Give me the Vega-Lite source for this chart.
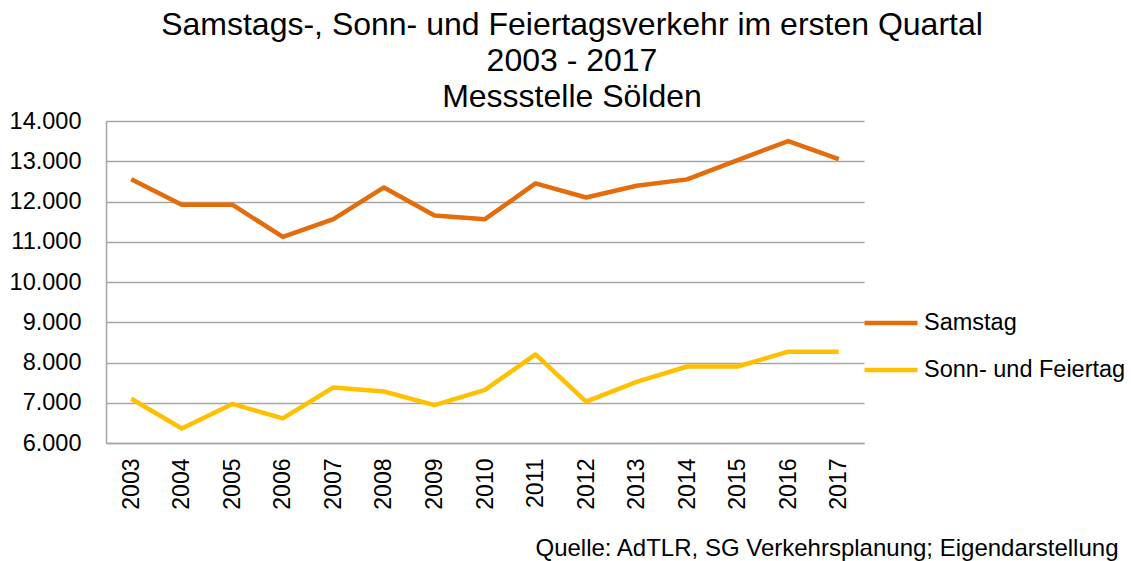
{
  "$schema": "https://vega.github.io/schema/vega-lite/v6.json",
  "autosize": {"type": "none"},
  "width": 758,
  "height": 322,
  "padding": {"left": 106, "top": 121, "right": 267, "bottom": 118},
  "background": "white",
  "config": {
    "locale": {"number": {"decimal": ",", "thousands": ".", "grouping": [3], "currency": ["", " €"]}},
    "view": {"stroke": null},
    "font": "Liberation Sans"
  },
  "title": {
    "text": ["Samstags-, Sonn- und Feiertagsverkehr im ersten Quartal", "2003 - 2017", "Messstelle Sölden"],
    "fontSize": 32,
    "font": "Liberation Sans",
    "fontWeight": "normal",
    "color": "#000000",
    "anchor": "middle",
    "frame": "group",
    "baseline": "bottom",
    "lineHeight": 36,
    "dx": 87,
    "dy": 43,
    "offset": 6
  },
  "data": {
    "values": [
      {"year": "2003", "series": "Samstag", "value": 12550},
      {"year": "2004", "series": "Samstag", "value": 11920},
      {"year": "2005", "series": "Samstag", "value": 11920},
      {"year": "2006", "series": "Samstag", "value": 11120},
      {"year": "2007", "series": "Samstag", "value": 11560},
      {"year": "2008", "series": "Samstag", "value": 12350},
      {"year": "2009", "series": "Samstag", "value": 11650},
      {"year": "2010", "series": "Samstag", "value": 11560},
      {"year": "2011", "series": "Samstag", "value": 12450},
      {"year": "2012", "series": "Samstag", "value": 12100},
      {"year": "2013", "series": "Samstag", "value": 12390},
      {"year": "2014", "series": "Samstag", "value": 12550},
      {"year": "2015", "series": "Samstag", "value": 13030},
      {"year": "2016", "series": "Samstag", "value": 13500},
      {"year": "2017", "series": "Samstag", "value": 13050},
      {"year": "2003", "series": "Sonn- und Feiertag", "value": 7100},
      {"year": "2004", "series": "Sonn- und Feiertag", "value": 6360},
      {"year": "2005", "series": "Sonn- und Feiertag", "value": 6970},
      {"year": "2006", "series": "Sonn- und Feiertag", "value": 6610},
      {"year": "2007", "series": "Sonn- und Feiertag", "value": 7380},
      {"year": "2008", "series": "Sonn- und Feiertag", "value": 7280},
      {"year": "2009", "series": "Sonn- und Feiertag", "value": 6940},
      {"year": "2010", "series": "Sonn- und Feiertag", "value": 7320},
      {"year": "2011", "series": "Sonn- und Feiertag", "value": 8200},
      {"year": "2012", "series": "Sonn- und Feiertag", "value": 7030},
      {"year": "2013", "series": "Sonn- und Feiertag", "value": 7520},
      {"year": "2014", "series": "Sonn- und Feiertag", "value": 7900},
      {"year": "2015", "series": "Sonn- und Feiertag", "value": 7900},
      {"year": "2016", "series": "Sonn- und Feiertag", "value": 8270},
      {"year": "2017", "series": "Sonn- und Feiertag", "value": 8270}
    ]
  },
  "mark": {"type": "line", "strokeWidth": 4.5, "strokeJoin": "round"},
  "encoding": {
    "x": {
      "field": "year",
      "type": "nominal",
      "sort": null,
      "scale": {"type": "point", "padding": 0.5},
      "axis": {
        "title": "Quelle: AdTLR, SG Verkehrsplanung; Eigendarstellung",
        "titleFont": "Liberation Sans",
        "titleFontSize": 24,
        "titleFontWeight": "normal",
        "titleColor": "#000000",
        "titleAlign": "right",
        "titleAnchor": null,
        "titleBaseline": "alphabetic",
        "titleX": 1012,
        "titleY": 112,
        "labelAngle": -90,
        "labelFontSize": 23,
        "labelColor": "#000000",
        "labelPadding": 15,
        "ticks": false,
        "domain": true,
        "domainColor": "#a6a6a6",
        "domainWidth": 1.5,
        "grid": false
      }
    },
    "y": {
      "field": "value",
      "type": "quantitative",
      "scale": {"domain": [6000, 14000], "nice": false, "zero": false},
      "axis": {
        "title": null,
        "values": [6000, 7000, 8000, 9000, 10000, 11000, 12000, 13000, 14000],
        "format": ",d",
        "labelFontSize": 23.5,
        "labelColor": "#000000",
        "labelPadding": 25,
        "ticks": false,
        "domain": true,
        "domainColor": "#a6a6a6",
        "domainWidth": 1.5,
        "grid": true,
        "gridColor": "#a6a6a6",
        "gridWidth": 1.5
      }
    },
    "color": {
      "field": "series",
      "type": "nominal",
      "scale": {"domain": ["Samstag", "Sonn- und Feiertag"], "range": ["#E46C0A", "#FFC000"]},
      "legend": {
        "title": null,
        "orient": "none",
        "legendX": 756,
        "legendY": 173,
        "padding": 0,
        "symbolType": "stroke",
        "symbolSize": 2809,
        "symbolStrokeWidth": 4.5,
        "labelFontSize": 23.5,
        "labelColor": "#000000",
        "labelOffset": 4,
        "labelLimit": 400,
        "rowPadding": 6
      }
    }
  }
}
